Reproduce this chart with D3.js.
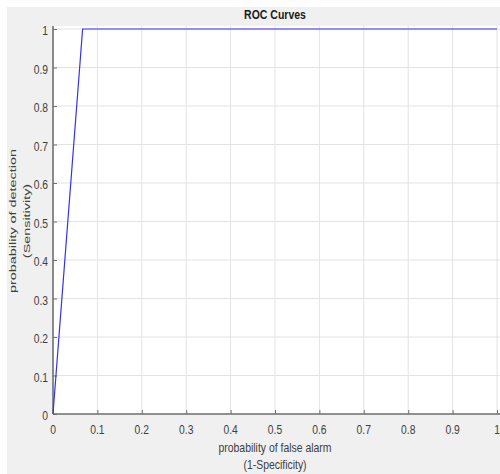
<!DOCTYPE html>
<html>
<head>
<meta charset="utf-8">
<script src="https://cdn.jsdelivr.net/npm/d3@7"></script>
<style>
  body { margin: 0; background: #fff; }
  text { font-family: "Liberation Sans", Arial, sans-serif; }
</style>
</head>
<body>
<div id="chart"></div>
<script>
// ROC curve points (false alarm rate, detection rate)
let fpr = [0, 0.0667, 1];
let tpr = [0, 1, 1];
let xTicks = [0, 0.1, 0.2, 0.3, 0.4, 0.5, 0.6, 0.7, 0.8, 0.9, 1];
let yTicks = [0, 0.1, 0.2, 0.3, 0.4, 0.5, 0.6, 0.7, 0.8, 0.9, 1];
let title = 'ROC Curves';
let xLabel = ['probability of false alarm', '(1-Specificity)'];
let yLabel = ['probability of detection', '(Sensitivity)'];

let width = 500, height = 474;
let plotL = 53, plotR = 497, plotT = 29, plotB = 414;
let sx = 0.86; // reference text looks squeezed horizontally

let svg = d3.select('#chart').append('svg')
	.attr('width', width)
	.attr('height', height);

svg.append('rect')
	.attr('x', 7).attr('y', 7)
	.attr('width', width - 7).attr('height', height - 7)
	.style('fill', '#f0f0f0');

let x = d3.scaleLinear().domain([0, 1]).range([plotL, plotR]);
let y = d3.scaleLinear().domain([0, 1]).range([plotB, plotT]);

svg.append('rect')
	.attr('x', plotL).attr('y', plotT - 3)
	.attr('width', width - plotL).attr('height', plotB - plotT + 3)
	.style('fill', '#fff');

// grid
svg.append('g').selectAll('line')
	.data(xTicks.slice(1)).enter().append('line')
	.attr('x1', d => x(d)).attr('x2', d => x(d))
	.attr('y1', plotT - 3).attr('y2', plotB)
	.style('stroke', '#e3e3e3').style('stroke-width', 1);
svg.append('g').selectAll('line')
	.data(yTicks.slice(1)).enter().append('line')
	.attr('x1', plotL).attr('x2', width)
	.attr('y1', d => y(d)).attr('y2', d => y(d))
	.style('stroke', '#e3e3e3').style('stroke-width', 1);

// axes, ticks pointing inward like matlab
let xAxis = svg.append('g')
	.attr('transform', `translate(0,${plotB})`)
	.call(d3.axisTop(x).tickValues(xTicks).tickSize(4).tickFormat(''));
let yAxis = svg.append('g')
	.attr('transform', `translate(${plotL},0)`)
	.call(d3.axisRight(y).tickValues(yTicks).tickSize(4).tickFormat(''));
xAxis.select('.domain').style('stroke', '#6e6e6e').style('stroke-width', 1.5)
	.attr('d', `M${plotL},0H${width}`);
yAxis.select('.domain').style('stroke', '#8a8a8a').style('stroke-width', 2)
	.attr('d', `M0,${plotB}V${plotT - 3}`);
svg.selectAll('.tick line').style('stroke', '#6e6e6e');

// tick labels
svg.append('g').selectAll('text')
	.data(xTicks).enter().append('text')
	.attr('transform', d => `translate(${x(d)},${plotB + 20}) scale(${sx},1)`)
	.attr('text-anchor', 'middle')
	.style('font-size', '12px').style('fill', '#404040')
	.text(d => d3.format('~g')(d));
svg.append('g').selectAll('text')
	.data(yTicks).enter().append('text')
	.attr('transform', d => `translate(${plotL - 5},${y(d) + 6}) scale(${sx},1)`)
	.attr('text-anchor', 'end')
	.style('font-size', '12px').style('fill', '#404040')
	.text(d => d3.format('~g')(d));

// curve
let line = d3.line().x((d, i) => x(fpr[i])).y((d, i) => y(tpr[i]));
svg.append('path')
	.datum(fpr)
	.attr('d', line)
	.style('fill', 'none')
	.style('stroke', '#3030ff')
	.style('stroke-width', 1.2);

// title and labels
svg.append('text')
	.attr('transform', `translate(${(plotL + plotR) / 2},${19}) scale(0.84,1)`)
	.attr('text-anchor', 'middle')
	.style('font-size', '12.5px').style('font-weight', 'bold').style('fill', '#1a1a1a')
	.text(title);
xLabel.forEach((t, i) => {
	svg.append('text')
		.attr('transform', `translate(${(plotL + plotR) / 2},${452 + i * 17}) scale(0.87,1)`)
		.attr('text-anchor', 'middle')
		.style('font-size', '12px').style('fill', '#404040')
		.text(t);
});
// y label in the reference is stretched along its length and thin across
yLabel.forEach((t, i) => {
	svg.append('text')
		.attr('transform', `translate(${16 + i * 14},221) rotate(-90) scale(1.2,0.68)`)
		.attr('text-anchor', 'middle')
		.style('font-size', '12px').style('fill', '#404040')
		.text(t);
});
</script>
</body>
</html>
